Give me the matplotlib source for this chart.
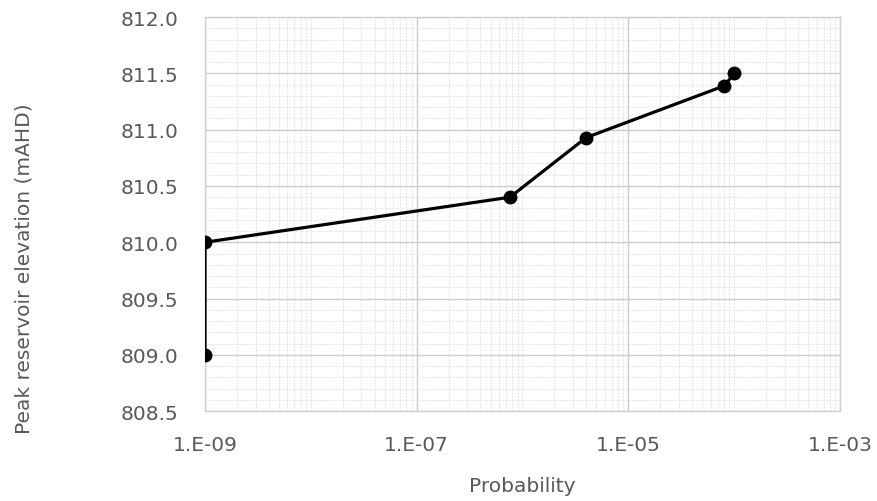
import numpy as np
import matplotlib
matplotlib.use("Agg")
import matplotlib.pyplot as plt
from matplotlib.ticker import FixedLocator, LogLocator, MultipleLocator, FuncFormatter, NullFormatter

# values
probability = [1e-9, 1e-9, 7.6e-7, 4.0e-6, 8.1e-5, 1.0e-4]
elevation = [809.0, 810.0, 810.4, 810.93, 811.39, 811.5]
x_ticks = [1e-9, 1e-7, 1e-5, 1e-3]

grey = '#595959'

fig = plt.figure(figsize=(8.78, 5.02), dpi=100)
ax = fig.add_axes([0.2335, 0.179, 0.7232, 0.785])

ax.plot(probability, elevation, color='black', lw=2.3, marker='o', ms=9, zorder=3)

ax.set_xscale('log')
ax.set_xlim(1e-9, 1e-3)
ax.set_ylim(808.5, 812.0)

ax.xaxis.set_major_locator(FixedLocator(x_ticks))
ax.xaxis.set_minor_locator(LogLocator(base=10, subs=np.arange(1, 10), numticks=50))
ax.xaxis.set_major_formatter(FuncFormatter(lambda v, p: "1.E-%02d" % round(-np.log10(v))))
ax.xaxis.set_minor_formatter(NullFormatter())
ax.yaxis.set_major_locator(MultipleLocator(0.5))
ax.yaxis.set_minor_locator(MultipleLocator(0.1))
ax.yaxis.set_major_formatter(FuncFormatter(lambda v, p: "%.1f" % v))

ax.grid(which='major', color='#cccccc', lw=1.0, ls='-')
ax.grid(which='minor', color='#e8e8e8', lw=0.8, ls=(0, (2, 1)))
ax.set_axisbelow(True)

for s in ax.spines.values():
    s.set_color('#d0d0d0')
    s.set_linewidth(1.0)

ax.tick_params(which='both', length=0, labelsize=14.5, labelcolor=grey)
ax.tick_params(axis='x', pad=17)
ax.tick_params(axis='y', pad=19)

ax.set_xlabel('Probability', fontsize=14.5, color=grey, labelpad=16)
ax.set_ylabel('Peak reservoir elevation (mAHD)', fontsize=14.5, color=grey)
ax.yaxis.set_label_coords(-0.27, 0.365)

fig.savefig('out.png', dpi=100)
